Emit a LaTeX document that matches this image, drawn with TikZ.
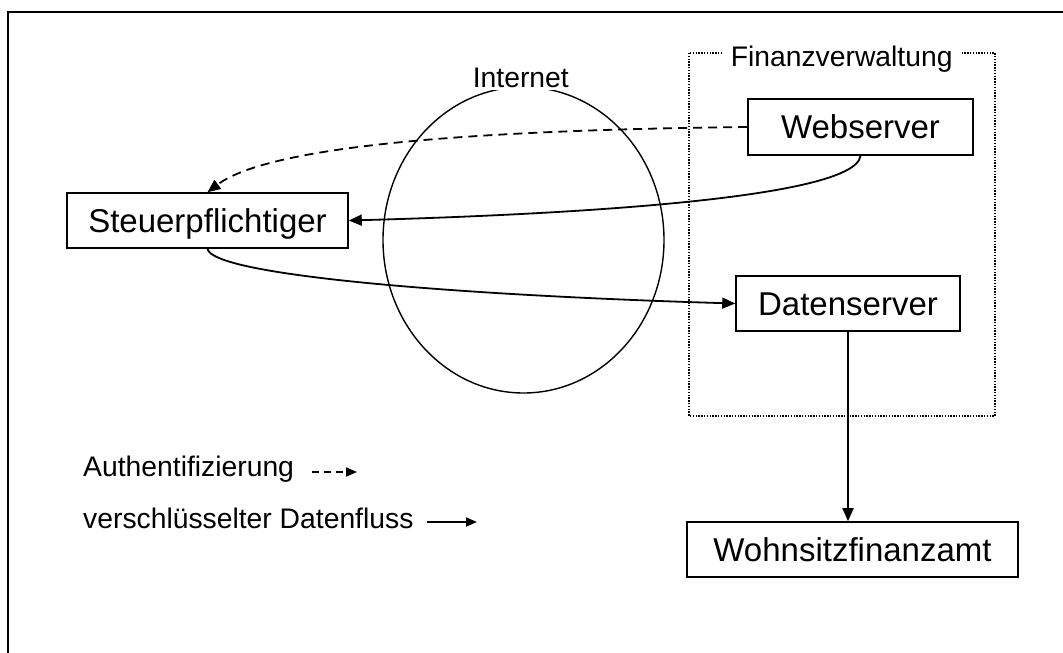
\documentclass[tikz,border=0pt]{standalone}
\usepackage{fontspec}
\setmainfont{Liberation Sans}
\usetikzlibrary{arrows.meta}
\begin{document}
\begin{tikzpicture}[x=1pt,y=-1pt,
  boxnode/.style={draw,line width=1.6pt,inner sep=0pt,text height=23.5pt,text depth=0pt,
    font=\fontsize{33}{38}\selectfont},
  smalltext/.style={inner sep=0pt,font=\fontsize{28.3}{34}\selectfont},
  conn/.style={line width=1.8pt,-{Triangle[length=13pt,width=11pt]}},
  authline/.style={conn,dash pattern=on 9pt off 6pt},
  dotbox/.style={line width=1.6pt,dash pattern=on 1.4pt off 1.4pt},
]
\useasboundingbox (0,0) rectangle (1063,653);
% outer frame
\draw[line width=2.2pt] (7.7,653) -- (7.7,11.7) -- (1063,11.7);

% Finanzverwaltung region
\draw[dotbox] (689,53) rectangle (995,416);
\node[smalltext,anchor=base,fill=white,inner xsep=7pt,inner ysep=2pt] (fv) at (841.7,66.7) {Finanzverwaltung};

% Internet ellipse
\draw[line width=1.4pt] (523.5,240) ellipse [x radius=140.5,y radius=153];
\node[smalltext,anchor=base,fill=white,inner xsep=5pt,inner ysep=2pt] (inet) at (520.8,87.3) {Internet};

% boxes
\node[boxnode,minimum width=281pt,minimum height=55pt] (st) at (207.5,220.5) {Steuerpflichtiger};
\node[boxnode,minimum width=225pt,minimum height=56pt] (ws) at (860.5,127) {Webserver};
\node[boxnode,minimum width=224pt,minimum height=55pt] (ds) at (848,303.5) {Datenserver};
\node[boxnode,minimum width=331pt,minimum height=55pt] (wf) at (852.5,549.5) {Wohnsitzfinanzamt};

% connectors
\draw[authline] (ws.west) .. controls (480,130) and (270,145) .. (st.north);
\draw[conn] (ws.south) .. controls (855,200) and (550,215) .. (st.east);
\draw[conn] (st.south) .. controls (212,275) and (450,295) .. (ds.west);
\draw[conn] (ds.south) -- (ds.south |- wf.north);

% legend
\node[smalltext,anchor=base west] (lauth) at (83,476.5) {Authentifizierung};
\node[smalltext,anchor=base west] (lflow) at (83,528) {verschlüsselter Datenfluss};
\coordinate (a1) at (312,472);
\coordinate (a2) at (357,472);
\coordinate (b1) at (427,522);
\coordinate (b2) at (477,522);
\draw[line width=1.8pt,dash pattern=on 7pt off 5pt,-{Triangle[length=11pt,width=9pt]}] (a1) -- (a2);
\draw[line width=1.8pt,-{Triangle[length=11pt,width=9pt]}] (b1) -- (b2);
\end{tikzpicture}
\end{document}
